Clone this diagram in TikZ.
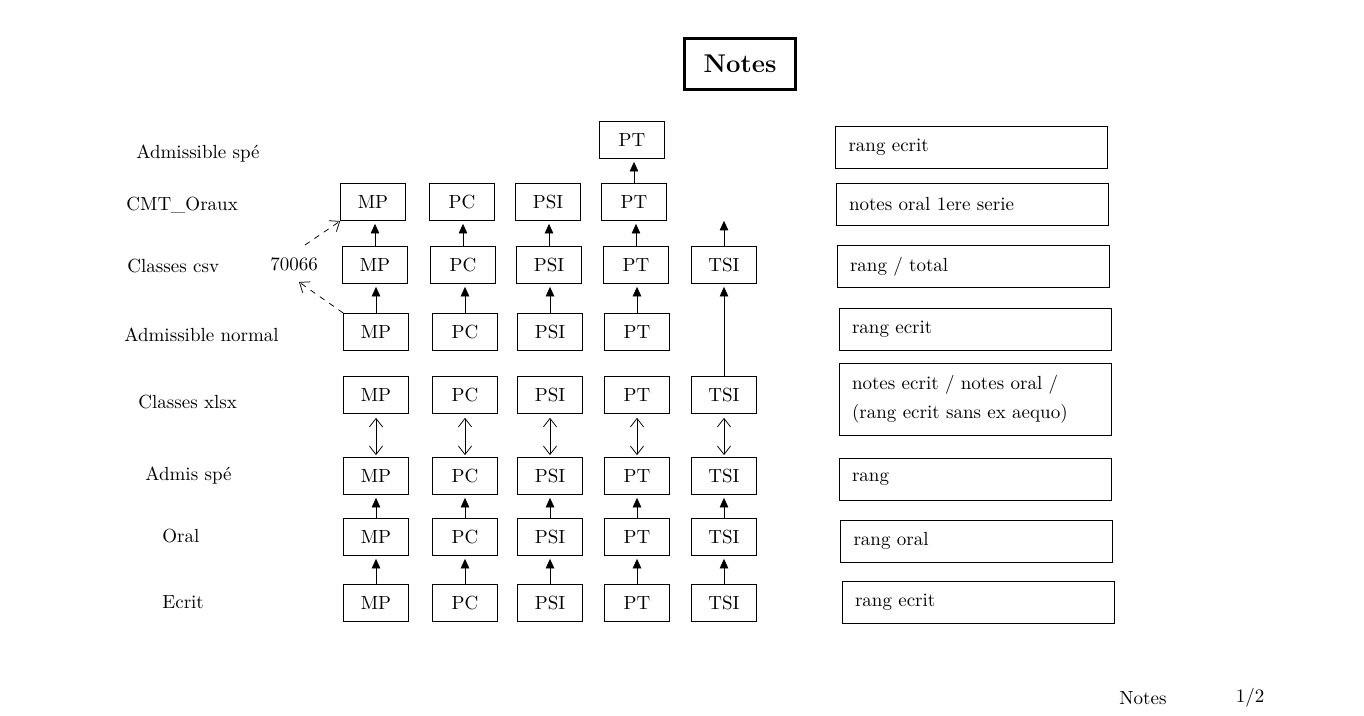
\documentclass[tikz,border=0pt]{standalone}
\usepackage{tikz}
\usetikzlibrary{arrows.meta, positioning}

\tikzset{
  filiere/.style={draw, minimum width=12mm, minimum height=6.9mm, inner sep=0pt},
  infobox/.style={draw, minimum width=50.3mm, minimum height=7.8mm, text width=45.5mm,
    inner xsep=2.4mm, inner ysep=0pt, align=left},
  rowlabel/.style={anchor=west, inner sep=0pt},
  up/.style={-{Triangle[length=5pt,width=4.5pt]}, shorten >=1.5pt},
  link/.style={{Straight Barb[length=4.5pt,width=7pt]}-{Straight Barb[length=4.5pt,width=7pt]},
    shorten <=2pt, shorten >=1pt},
  renvoi/.style={dashed, -{Straight Barb[length=4.5pt,width=7pt]}}
}

\begin{document}
\begin{tikzpicture}[x=0.185mm, y=-0.185mm]

    \useasboundingbox (0,0) rectangle (1364,715);

    % 1. Title
    \node[draw, line width=1.6pt, font=\fontsize{13.5}{16}\selectfont\bfseries,
          minimum width=20.7mm, minimum height=9.6mm] (titre) at (740,64) {Notes};

    % 2. Row labels
    \node[rowlabel] (lAdspe)  at (136,154) {Admissible spé};
    \node[rowlabel] (lCmt)    at (126,205) {CMT\_Oraux};
    \node[rowlabel] (lCsv)    at (127,266) {Classes csv};
    \node[rowlabel] (lAdnorm) at (124,335) {Admissible normal};
    \node[rowlabel] (lXlsx)   at (138,402) {Classes xlsx};
    \node[rowlabel] (lAdmis)  at (145,476) {Admis spé};
    \node[rowlabel] (lOral)   at (162,536) {Oral};
    \node[rowlabel] (lEcrit)  at (162,602) {Ecrit};

    % 3. Lower block: Ecrit -> Oral -> Admis spe <-> Classes xlsx
    \foreach \c/\x in {MP/376, PC/465, PSI/550, PT/637, TSI/724} {
        \node[filiere] (ecrit\c) at (\x,603) {\c};
        \node[filiere] (oral\c)  at (\x,537) {\c};
        \node[filiere] (admis\c) at (\x,476) {\c};
        \node[filiere] (xlsx\c)  at (\x,395) {\c};
        \draw[up] (ecrit\c) -- (oral\c);
        \draw[up] (oral\c) -- (admis\c);
        \draw[link] (xlsx\c) -- (admis\c);
    }

    % 4. Upper block: Admissible normal -> Classes csv -> CMT_Oraux
    \foreach \c/\x in {MP/375, PC/463, PSI/549, PT/636, TSI/724}
        \node[filiere] (csv\c) at (\x,265) {\c};
    \foreach \c/\x in {MP/376, PC/465, PSI/550, PT/637}
        \node[filiere] (adnorm\c) at (\x,332) {\c};
    \foreach \c/\x in {MP/373, PC/462, PSI/548, PT/634}
        \node[filiere] (cmt\c) at (\x,202) {\c};
    \node[filiere] (adspePT) at (632,140) {PT};

    \foreach \c in {MP, PC, PSI, PT} {
        \draw[up] (adnorm\c.north) -- (adnorm\c.north |- csv\c.south);
        \draw[up] (csv\c.north) -- (csv\c.north |- cmt\c.south);
    }
    \draw[up] (cmtPT.north) -- (cmtPT.north |- adspePT.south);

    % TSI column
    \coordinate (tsiHaut) at (724,218);
    \draw[up] (xlsxTSI) -- (csvTSI);
    \draw[up] (csvTSI.north) -- (tsiHaut);

    % 5. Count and dashed links
    \node (total) at (294,264) {70066};
    \coordinate (totBas)  at (299,282);
    \coordinate (totHaut) at (305,245);
    \draw[renvoi] (adnormMP.north west) -- (totBas);
    \draw[renvoi] (totHaut) -- (cmtMP.south west);

    % 6. Info boxes
    \node[infobox] (iAdspe)  at (971.5,147)  {rang ecrit};
    \node[infobox] (iCmt)    at (972,204)    {notes oral 1ere serie};
    \node[infobox] (iCsv)    at (973,266.5)  {rang / total};
    \node[infobox] (iAdnorm) at (975,329)    {rang ecrit};
    \node[infobox, minimum height=13.3mm] (iXlsx) at (975,399)
        {notes ecrit / notes oral /\\[3pt] (rang ecrit sans ex aequo)};
    \node[infobox] (iAdmis)  at (975,479.5)  {rang};
    \node[infobox] (iOral)   at (976.5,541)  {rang oral};
    \node[infobox] (iEcrit)  at (978,602.5)  {rang ecrit};

    % 7. Footer
    \node (pied) at (1143,698) {Notes};
    \node (page) at (1250,698) {1/2};

\end{tikzpicture}
\end{document}
